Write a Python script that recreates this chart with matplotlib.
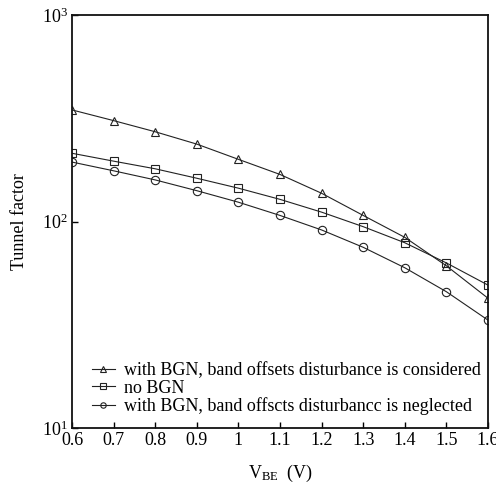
import matplotlib
matplotlib.use("Agg")
import matplotlib.pyplot as plt
from matplotlib.ticker import FixedLocator, NullLocator, FixedFormatter

plt.rcParams['font.family'] = ['Liberation Serif', 'DejaVu Serif']
plt.rcParams['mathtext.fontset'] = 'custom'
plt.rcParams['mathtext.rm'] = 'Liberation Serif'
plt.rcParams['mathtext.it'] = 'Liberation Serif:italic'

vbe = [0.6, 0.7, 0.8, 0.9, 1.0, 1.1, 1.2, 1.3, 1.4, 1.5, 1.6]
considered = [347, 308, 272, 237, 200, 169, 137, 107, 83.8, 61, 42.5]
no_bgn = [214, 196, 180, 162, 145, 128, 111, 94.4, 78.9, 63, 49.2]
neglected = [194, 176, 159, 141, 124, 107, 91, 75, 59.7, 45.7, 33.3]

labels = ["with BGN, band offsets disturbance is considered",
          "no BGN",
          "with BGN, band offscts disturbancc is neglected"]
xticks = [0.6, 0.7, 0.8, 0.9, 1.0, 1.1, 1.2, 1.3, 1.4, 1.5, 1.6]
xticklabels = ["0.6", "0.7", "0.8", "0.9", "1", "1.1", "1.2", "1.3", "1.4", "1.5", "1.6"]
yticks = [10, 100, 1000]
yticklabels = [r"$10^1$", r"$10^2$", r"$10^3$"]

fig = plt.figure(figsize=(4.96, 4.88), dpi=100)
ax = fig.add_axes([72/496, 1-428/488, (488-72)/496, (428-15)/488])

col = '#222222'
kw = dict(color=col, lw=0.8, mfc='none', mec=col, mew=0.8, ms=6)
ax.plot(vbe, considered, marker='^', label=labels[0], **kw)
ax.plot(vbe, no_bgn, marker='s', label=labels[1], **kw)
ax.plot(vbe, neglected, marker='o', label=labels[2], **kw)

ax.set_yscale('log')
ax.set_xlim(0.6, 1.6)
ax.set_ylim(10, 1000)
ax.xaxis.set_major_locator(FixedLocator(xticks))
ax.xaxis.set_major_formatter(FixedFormatter(xticklabels))
ax.yaxis.set_major_locator(FixedLocator(yticks))
ax.yaxis.set_major_formatter(FixedFormatter(yticklabels))
ax.yaxis.set_minor_locator(NullLocator())
ax.xaxis.set_minor_locator(NullLocator())
ax.tick_params(direction='in', length=4, width=1, labelsize=13, pad=3, colors='black')
for s in ax.spines.values():
    s.set_linewidth(1.3)
    s.set_color('#111111')

ax.set_xlabel(r"V$_{\mathrm{BE}}$  (V)", fontsize=13, labelpad=10)
ax.set_ylabel("Tunnel factor", fontsize=13, labelpad=10)

leg = ax.legend(loc='lower left', bbox_to_anchor=(0.03, 0.014), frameon=False,
                fontsize=13, handlelength=1.3, handletextpad=0.5,
                labelspacing=0.02, borderaxespad=0, markerscale=0.65)

fig.savefig("out.png", dpi=100)
